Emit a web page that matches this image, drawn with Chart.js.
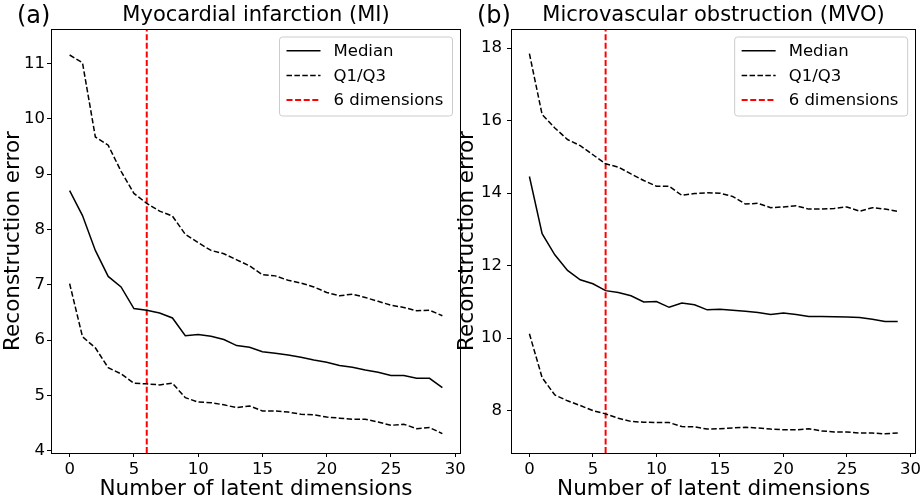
<!DOCTYPE html>
<html lang="en">
<head>
<meta charset="UTF-8">
<title>Reconstruction error vs latent dimensions</title>
<script src="https://cdn.jsdelivr.net/npm/chart.js"></script>
<style>
    body { margin: 0; background: #fff; }
    #wrap { position: relative; width: 924px; height: 504px; overflow: hidden; }
    #chartA { position: absolute; left: 0; top: 0; }
    #chartB { position: absolute; left: 455px; top: 0; }
</style>
</head>
<body>
<div id="wrap">
    <canvas id="chartA" width="480" height="504"></canvas>
    <canvas id="chartB" width="469" height="504"></canvas>
</div>

<script>
    // data
    var dims = [0, 1, 2, 3, 4, 5, 6, 7, 8, 9, 10, 11, 12, 13, 14, 15, 16, 17, 18, 19, 20, 21, 22, 23, 24, 25, 26, 27, 28, 29]
    var cutoff = 6
    var xTicks = [0, 5, 10, 15, 20, 25, 30]

    // (a) myocardial infarction
    var miMedian = [8.70, 8.25, 7.62, 7.15, 6.96, 6.57, 6.54, 6.49, 6.40, 6.08, 6.10, 6.07, 6.01, 5.90, 5.87, 5.79, 5.76, 5.73, 5.69, 5.64, 5.60, 5.54, 5.51, 5.46, 5.42, 5.36, 5.36, 5.31, 5.31, 5.14]
    var miQ1 = [7.02, 6.06, 5.86, 5.50, 5.39, 5.22, 5.21, 5.19, 5.22, 4.96, 4.88, 4.87, 4.83, 4.78, 4.81, 4.72, 4.72, 4.70, 4.66, 4.65, 4.61, 4.59, 4.57, 4.57, 4.52, 4.46, 4.48, 4.40, 4.42, 4.31]
    var miQ3 = [11.15, 11.01, 9.67, 9.52, 9.05, 8.65, 8.47, 8.33, 8.24, 7.91, 7.76, 7.62, 7.56, 7.45, 7.34, 7.18, 7.16, 7.08, 7.03, 6.96, 6.86, 6.80, 6.83, 6.77, 6.70, 6.63, 6.59, 6.53, 6.54, 6.44]
    var miYTicks = [4, 5, 6, 7, 8, 9, 10, 11]
    var miRange = [3.96, 11.62]

    // (b) microvascular obstruction
    var mvoMedian = [14.46, 12.88, 12.30, 11.87, 11.61, 11.50, 11.31, 11.26, 11.17, 11.00, 11.01, 10.85, 10.97, 10.92, 10.78, 10.80, 10.77, 10.74, 10.71, 10.65, 10.69, 10.65, 10.60, 10.60, 10.59, 10.58, 10.57, 10.52, 10.46, 10.46]
    var mvoQ1 = [10.12, 8.91, 8.43, 8.27, 8.14, 8.00, 7.91, 7.79, 7.70, 7.68, 7.67, 7.67, 7.56, 7.55, 7.49, 7.50, 7.52, 7.54, 7.52, 7.49, 7.47, 7.47, 7.50, 7.44, 7.41, 7.41, 7.38, 7.38, 7.36, 7.38]
    var mvoQ3 = [17.85, 16.17, 15.80, 15.48, 15.31, 15.06, 14.81, 14.72, 14.53, 14.35, 14.19, 14.19, 13.94, 13.99, 14.01, 14.00, 13.91, 13.70, 13.72, 13.60, 13.62, 13.65, 13.56, 13.56, 13.58, 13.62, 13.50, 13.60, 13.56, 13.50]
    var mvoYTicks = [8, 10, 12, 14, 16, 18]
    var mvoRange = [6.83, 18.53]

    var legendLabels = ['Median', 'Q1/Q3', '6 dimensions']
    var FONT = 'DejaVu Sans'

    function points(arr) {
        return dims.map(function (d, i) { return { x: d, y: arr[i] } })
    }

    // titles, axis labels, frame and legend drawn on top
    function decor(s) {
        return {
            id: 'decor',
            afterDraw: function (chart) {
                var ctx = chart.ctx
                var a = chart.chartArea
                var cx = (a.left + a.right) / 2
                var cy = (a.top + a.bottom) / 2
                ctx.save()
                ctx.fillStyle = '#000'
                ctx.textBaseline = 'alphabetic'

                ctx.font = '24px "' + FONT + '"'
                ctx.textAlign = 'left'
                ctx.fillText(s.letter, s.letterX, 23)

                ctx.font = '21px "' + FONT + '"'
                ctx.textAlign = 'center'
                ctx.fillText(s.title, cx, 21)

                ctx.font = '21.5px "' + FONT + '"'
                ctx.fillText('Number of latent dimensions', cx, 495)

                ctx.translate(s.yTitleX, cy)
                ctx.rotate(-Math.PI / 2)
                ctx.fillText('Reconstruction error', 0, 0)
                ctx.restore()

                // axes frame
                ctx.save()
                ctx.strokeStyle = '#000'
                ctx.lineWidth = 1
                ctx.strokeRect(Math.round(a.left) + 0.5, Math.round(a.top) + 0.5, Math.round(a.width) - 1, Math.round(a.height))
                ctx.restore()

                // legend box
                var bw = 173, bh = 79
                var bx = a.right - 8.5 - bw
                var by = a.top + 8
                ctx.save()
                ctx.beginPath()
                ctx.roundRect(bx, by, bw, bh, 3)
                ctx.fillStyle = 'rgba(255,255,255,0.8)'
                ctx.fill()
                ctx.strokeStyle = '#cccccc'
                ctx.lineWidth = 1
                ctx.stroke()

                var styles = [
                    { color: '#000', dash: [], w: 1.5 },
                    { color: '#000', dash: [5.5, 2.4], w: 1.5 },
                    { color: '#ff0000', dash: [6, 2.6], w: 2 }
                ]
                ctx.font = '16.5px "' + FONT + '"'
                ctx.textAlign = 'left'
                ctx.textBaseline = 'middle'
                for (var i = 0; i < legendLabels.length; i++) {
                    var ry = by + 13.7 + i * 24.7
                    ctx.beginPath()
                    ctx.setLineDash(styles[i].dash)
                    ctx.strokeStyle = styles[i].color
                    ctx.lineWidth = styles[i].w
                    ctx.moveTo(bx + 7, ry)
                    ctx.lineTo(bx + 41, ry)
                    ctx.stroke()
                    ctx.setLineDash([])
                    ctx.fillStyle = '#000'
                    ctx.fillText(legendLabels[i], bx + 54, ry + 1)
                }
                ctx.restore()
            }
        }
    }

    function makeChart(id, median, q1, q3, yTicks, yRange, s) {
        var dash = [5.5, 2.4]
        return new Chart(document.getElementById(id), {
            type: 'line',
            data: {
                datasets: [
                    { label: legendLabels[0], data: points(median), borderColor: '#000', borderWidth: 1.5, pointRadius: 0, tension: 0 },
                    { label: legendLabels[1], data: points(q1), borderColor: '#000', borderWidth: 1.5, borderDash: dash, pointRadius: 0, tension: 0 },
                    { label: legendLabels[1], data: points(q3), borderColor: '#000', borderWidth: 1.5, borderDash: dash, pointRadius: 0, tension: 0 },
                    { label: legendLabels[2], data: [{ x: cutoff, y: yRange[0] }, { x: cutoff, y: yRange[1] }], borderColor: '#ff0000', borderWidth: 2, borderDash: [6, 2.6], pointRadius: 0 }
                ]
            },
            options: {
                responsive: false,
                animation: false,
                layout: { padding: { top: 29, right: s.padRight, left: 0, bottom: 0 } },
                plugins: { legend: { display: false }, tooltip: { enabled: false } },
                scales: {
                    x: {
                        type: 'linear',
                        min: -1.45,
                        max: 30.45,
                        afterBuildTicks: function (sc) { sc.ticks = xTicks.map(function (v) { return { value: v } }) },
                        afterFit: function (sc) { sc.height = 51 },
                        grid: { drawOnChartArea: false, tickLength: 4, color: '#000' },
                        border: { display: false },
                        ticks: { color: '#000', padding: 3, maxRotation: 0, font: { family: FONT, size: 16.5 } }
                    },
                    y: {
                        min: yRange[0],
                        max: yRange[1],
                        afterBuildTicks: function (sc) { sc.ticks = yTicks.map(function (v) { return { value: v } }) },
                        afterFit: function (sc) { sc.width = s.plotLeft },
                        grid: { drawOnChartArea: false, tickLength: 4, color: '#000' },
                        border: { display: false },
                        ticks: { color: '#000', padding: s.tickPad, font: { family: FONT, size: 16.5 } }
                    }
                }
            },
            plugins: [decor(s)]
        })
    }

    makeChart('chartA', miMedian, miQ1, miQ3, miYTicks, miRange,
        { letter: '(a)', title: 'Myocardial infarction (MI)', letterX: 17, yTitleX: 19, plotLeft: 51, padRight: 19, tickPad: 2 })

    makeChart('chartB', mvoMedian, mvoQ1, mvoQ3, mvoYTicks, mvoRange,
        { letter: '(b)', title: 'Microvascular obstruction (MVO)', letterX: 22, yTitleX: 18, plotLeft: 56, padRight: 5, tickPad: 5 })
</script>
</body>
</html>
